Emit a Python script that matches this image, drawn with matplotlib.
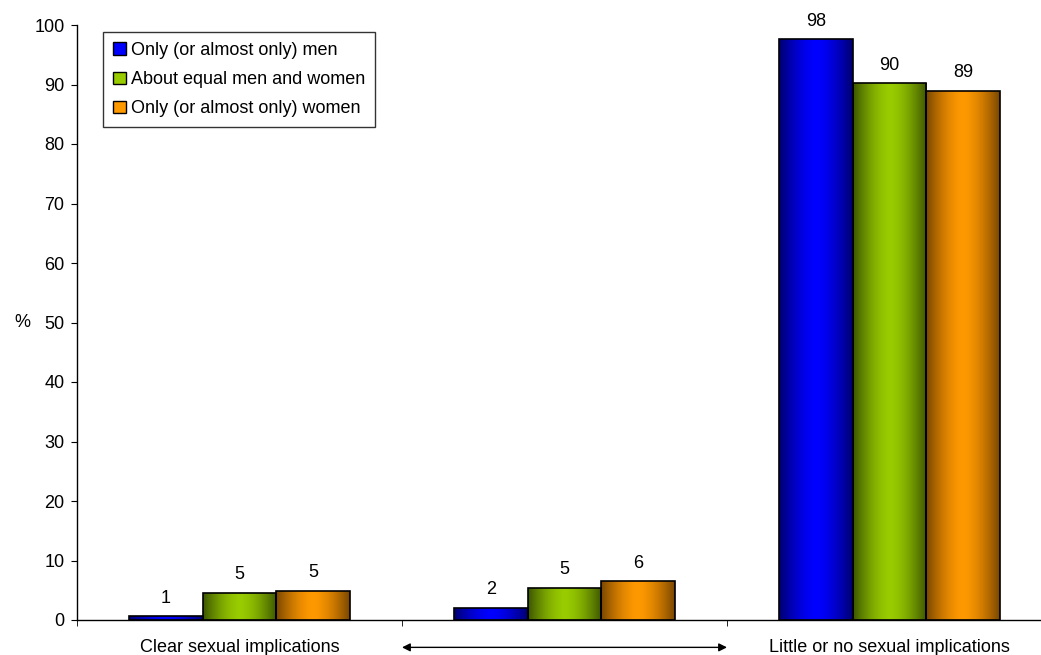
import numpy as np
import matplotlib
matplotlib.use("Agg")
import matplotlib.pyplot as plt
from matplotlib.patches import Patch

plt.rcParams['font.family'] = ['Liberation Sans', 'DejaVu Sans']

categories = ["Clear sexual implications", "", "Little or no sexual implications"]
series_names = ["Only (or almost only) men", "About equal men and women", "Only (or almost only) women"]
men = [0.6, 2.0, 97.6]
equal = [4.6, 5.4, 90.2]
women = [4.9, 6.5, 88.9]
men_labels = ["1", "2", "98"]
equal_labels = ["5", "5", "90"]
women_labels = ["5", "6", "89"]
yticks = [0, 10, 20, 30, 40, 50, 60, 70, 80, 90, 100]

bright = [(0/255, 0/255, 255/255), (153/255, 204/255, 0/255), (255/255, 153/255, 0/255)]
dark = [(0/255, 0/255, 110/255), (60/255, 85/255, 0/255), (120/255, 70/255, 0/255)]

FS = 13
W, H = 1041, 655
fig = plt.figure(figsize=(W/100, H/100), dpi=100)
ax = fig.add_axes([77/W, 35/H, 975/W, 595/H])
ax.set_xlim(-0.5, 2.5)
ax.set_ylim(0, 100)

width = 0.226
x = np.arange(len(categories))
all_vals = [men, equal, women]
all_labels = [men_labels, equal_labels, women_labels]

t = np.linspace(0, 1, 200)
prof = 1 - np.abs(2 * t - 1) ** 1.6

for i, (vals, labs) in enumerate(zip(all_vals, all_labels)):
    pos = x + (i - 1) * width
    bars = ax.bar(pos, vals, width=width, facecolor='none', edgecolor='black', linewidth=1.2, zorder=3)
    d = np.array(dark[i]); b = np.array(bright[i])
    grad = d[None, :] + (b - d)[None, :] * prof[:, None]
    img = grad[None, :, :]
    for bar, v, lab in zip(bars, vals, labs):
        x0 = bar.get_x()
        im = ax.imshow(img, extent=(x0, x0 + width, 0, v), aspect='auto', zorder=2, interpolation='bilinear')
        im.set_clip_path(bar)
        ax.annotate(lab, (x0 + width / 2, v), xytext=(0, 7), textcoords='offset points',
                    ha='center', va='bottom', fontsize=FS)

ax.set_xlim(-0.5, 2.5)
ax.set_ylim(0, 100)

ax.spines['top'].set_visible(False)
ax.spines['right'].set_visible(False)
ax.spines['left'].set_linewidth(1)
ax.spines['bottom'].set_linewidth(1)

ax.set_yticks(yticks)
ax.tick_params(axis='y', labelsize=FS, length=4, direction='out', pad=5)
ax.set_xticks(x)
ax.set_xticklabels(categories)
ax.tick_params(axis='x', which='major', length=0, labelsize=FS, pad=14)
ax.set_xticks([-0.5, 0.5, 1.5, 2.5], minor=True)
ax.tick_params(axis='x', which='minor', length=4, direction='out')

# arrow for the middle category
ax.annotate('', xy=(0.5, -0.046), xytext=(1.5, -0.046),
            xycoords=ax.get_xaxis_transform(), textcoords=ax.get_xaxis_transform(),
            arrowprops=dict(arrowstyle='<|-|>', color='black', lw=1, mutation_scale=12,
                            shrinkA=0, shrinkB=0),
            annotation_clip=False)

fig.text(22/W, 1 - 322/H, '%', fontsize=FS, ha='center', va='center')

handles = [Patch(facecolor=bright[i], edgecolor='black', label=series_names[i]) for i in range(3)]
leg = fig.legend(handles=handles, loc='upper left', bbox_to_anchor=(103/W, 1 - 32/H),
                 fontsize=FS, frameon=True, fancybox=False, handlelength=0.7, handleheight=0.7,
                 handletextpad=0.3, borderpad=0.55, labelspacing=0.68, borderaxespad=0)
leg.get_frame().set_edgecolor('black')
leg.get_frame().set_linewidth(1)

fig.savefig('out.png', dpi=100)
